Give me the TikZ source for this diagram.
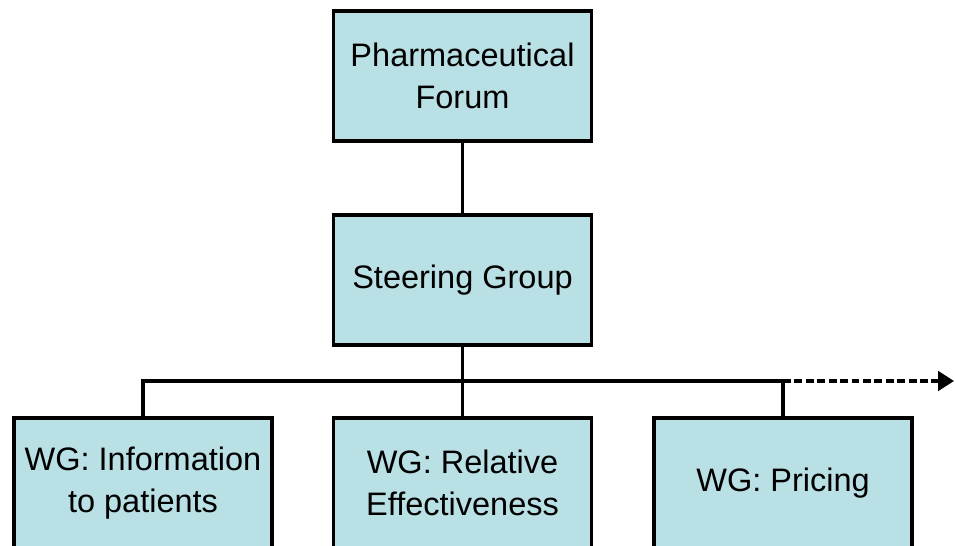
\documentclass[tikz,border=0pt]{standalone}
\usepackage{fontspec}
\setmainfont{Liberation Sans}
\usetikzlibrary{arrows.meta}
\definecolor{boxblue}{RGB}{185,224,228}

\begin{document}
\begin{tikzpicture}[x=0.02cm,y=-0.02cm,
  box/.style={draw=black, fill=boxblue, line width=2pt, minimum width=5.16cm, minimum height=2.6cm, align=center, inner sep=0pt, font=\fontsize{18.5}{24}\selectfont},
  link/.style={line width=2pt}]
            \useasboundingbox (0,0) rectangle (955,546);
            \clip (0,0) rectangle (955,546);
            \node[box] (forum) at (462.5,76) {Pharmaceutical\\Forum};
            \node[box] (steer) at (462.5,280) {Steering Group};
            \node[box] (wginfo) at (143,483) {WG: Information\\to patients};
            \node[box] (wgrel) at (462.5,483) {WG: Relative\\Effectiveness};
            \node[box] (wgprice) at (783,483) {WG: Pricing};
            \coordinate (bus) at (462.5,381);
            \coordinate (busend) at (954,381);
            \draw[link] (forum) -- (steer);
            \draw[link] (steer) -- (bus);
            \draw[link] (bus) -- (wgrel);
            \draw[link] (wginfo) |- (bus) -| (wgprice);
            \draw[line width=1.8pt, dash pattern=on 4.5pt off 2pt, -{Triangle[length=9pt,width=11pt]}] (wgprice |- bus) -- (busend);
\end{tikzpicture}
\end{document}
